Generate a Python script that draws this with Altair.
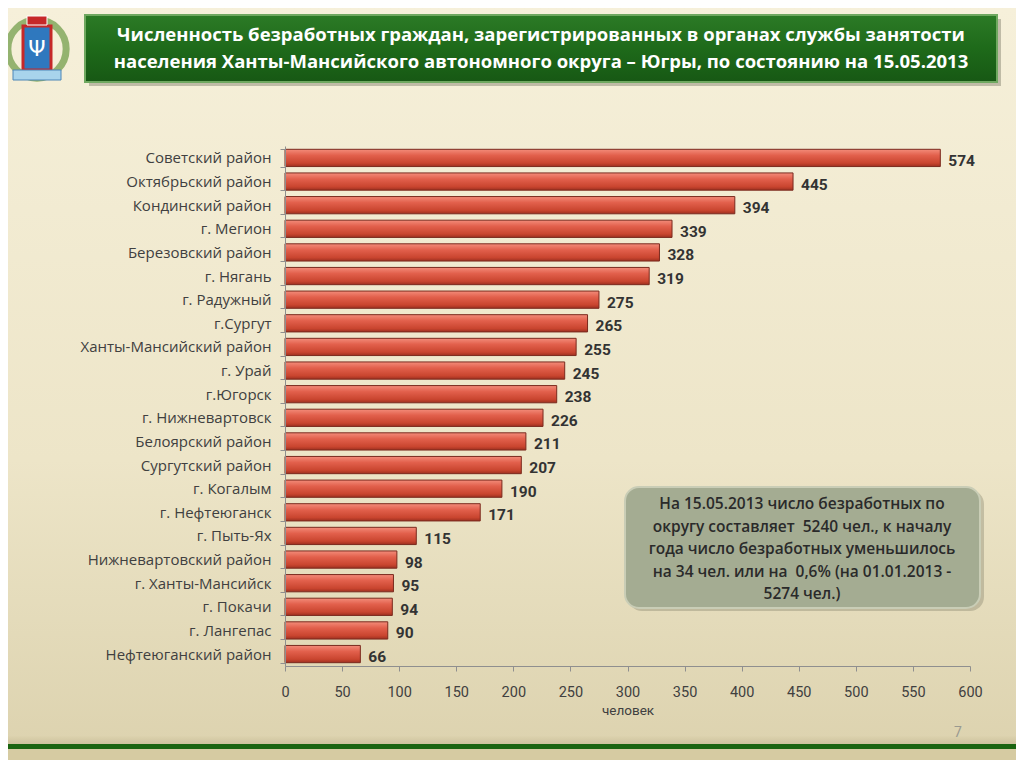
import altair as alt
import pandas as pd

categories = [
    "Советский район", "Октябрьский район", "Кондинский район", "г. Мегион",
    "Березовский район", "г. Нягань", "г. Радужный", "г.Сургут",
    "Ханты-Мансийский район", "г. Урай", "г.Югорск", "г. Нижневартовск",
    "Белоярский район", "Сургутский район", "г. Когалым", "г. Нефтеюганск",
    "г. Пыть-Ях", "Нижневартовский район", "г. Ханты-Мансийск", "г. Покачи",
    "г. Лангепас", "Нефтеюганский район",
]
values = [574, 445, 394, 339, 328, 319, 275, 265, 255, 245, 238, 226,
          211, 207, 190, 171, 115, 98, 95, 94, 90, 66]
x_ticks = list(range(0, 601, 50))

title_lines = [
    "Численность безработных граждан, зарегистрированных в органах службы занятости",
    "населения Ханты-Мансийского автономного округа – Югры, по состоянию на 15.05.2013",
]
note_lines = [
    "На 15.05.2013 число безработных по",
    "округу составляет \u00a05240 чел., к началу",
    "года число безработных уменьшилось",
    "на 34 чел. или на \u00a00,6% (на 01.01.2013 -",
    "5274 чел.)",
]
x_title = "человек"
page_no = "7"

FONT = "Roboto"
FONT2 = "Open Sans"
df = pd.DataFrame({"cat": categories, "val": values})
one = pd.DataFrame({"k": [0]})

W, H = 685, 520
L, T = 277, 138

def grad(stops, vertical=True):
    return alt.LinearGradient(
        gradient="linear",
        stops=[alt.GradientStop(color=c, offset=o) for o, c in stops],
        x1=0, x2=0 if vertical else 1, y1=0, y2=1 if vertical else 0,
    )

def box(x, x2, y, y2, **kw):
    return alt.Chart(one).mark_rect(**kw).encode(
        x=alt.value(x), x2=alt.value(x2), y=alt.value(y), y2=alt.value(y2))

bg = box(-L, 1008 - L, -T, 752 - T,
         color=grad([(0, "#F6F0DA"), (0.6, "#EDE5C8"), (1, "#DCD2AE")]))
shade = box(-L, 1008 - L, 590, 598,
            color=grad([(0, "#DCD2AE"), (1, "#C9BE98")]), opacity=0.8)
green_line = box(-L, 1008 - L, 598, 603, color="#1A6410")
below = box(-L, 1008 - L, 603, 752 - T, color="#D6CBA2")

title_shadow = box(-196, 716, -127, -60, color="#5b5b4a", opacity=0.35)
title_box = box(-200, 712, -131, -64,
                color=grad([(0, "#2C7A26"), (0.5, "#1E6A1A"), (1, "#175814")]),
                stroke="#6FA860", strokeWidth=2)
title_text = alt.Chart(one).mark_text(
    text=title_lines, font=FONT2, fontSize=18.5, fontWeight="bold",
    color="white", align="center", baseline="middle", lineHeight=27,
).encode(x=alt.value(256), y=alt.value(-111))

# simple emblem
wreath = alt.Chart(one).mark_point(
    shape="circle", filled=False, strokeWidth=7, color="#6C9A44", size=3400
).encode(x=alt.value(-248), y=alt.value(-97))
shield = box(-262, -234, -120, -76, color="#2F78BE", stroke="#C62828", strokeWidth=3)
crown = box(-258, -238, -130, -121, color="#C62828", stroke="#ffffff", strokeWidth=1)
ribbon = box(-272, -224, -76, -66, color="#A8D4EC", stroke="#4C86B8", strokeWidth=1)
emblem_fig = alt.Chart(one).mark_text(
    text="Ψ", fontSize=22, color="#ffffff", font="DejaVu Sans", baseline="middle"
).encode(x=alt.value(-248), y=alt.value(-97))

bars = alt.Chart(df).mark_bar(
    color=grad([(0, "#F38C7A"), (0.35, "#E2604C"), (0.8, "#C9452F"), (1, "#9E3020")]),
    stroke="#7A2A1E", strokeWidth=1,
).encode(
    y=alt.Y("cat:N", sort=categories, title=None,
            scale=alt.Scale(paddingInner=0.27, paddingOuter=0.14),
            axis=alt.Axis(labelFont=FONT2, labelFontSize=15, labelColor="#404040",
                          labelPadding=9, labelLimit=400, tickBand="extent", tickSize=5,
                          tickColor="#8f8f8f", domainColor="#8f8f8f", zindex=1)),
    x=alt.X("val:Q", title=x_title,
            scale=alt.Scale(domain=[0, 600], nice=False),
            axis=alt.Axis(values=x_ticks, grid=False, labelFont=FONT, labelFontSize=14.5,
                          labelFlush=False, labelOverlap=False,
                          labelColor="#404040", labelPadding=14, tickSize=5,
                          tickColor="#8f8f8f", domainColor="#8f8f8f",
                          titleFont=FONT, titleFontSize=13.5, titleFontWeight="normal",
                          titleColor="#404040", titlePadding=5, zindex=1)),
)
labels = alt.Chart(df).mark_text(
    align="left", baseline="middle", dx=8, dy=3, font=FONT, fontSize=15.5,
    fontWeight="bold", color="#333333",
).encode(y=alt.Y("cat:N", sort=categories), x="val:Q", text="val:Q")

note_shadow = box(343, 699, 344, 465, color="#6b6b55", opacity=0.3, cornerRadius=14)
note_box = box(340, 695, 341, 462, color="#A4AC92", stroke="#C9CDB6",
               strokeWidth=2, cornerRadius=14)
note_text = alt.Chart(one).mark_text(
    text=note_lines, font=FONT2, fontSize=15.5, fontWeight=600, color="#2A2A2A",
    align="center", baseline="middle", lineHeight=22.5,
).encode(x=alt.value(517), y=alt.value(358))

page = alt.Chart(one).mark_text(
    text=page_no, font=FONT, fontSize=14, color="#9a9a90", align="center",
    baseline="middle",
).encode(x=alt.value(673), y=alt.value(587))

chart = alt.layer(
    bg, shade, green_line, below, title_shadow, title_box, title_text,
    wreath, shield, crown, ribbon, emblem_fig,
    bars, labels, note_shadow, note_box, note_text, page,
).properties(
    width=W, height=H,
    autosize=alt.AutoSizeParams(type="none"),
    padding={"left": L, "top": T, "right": 1008 - L - W, "bottom": 752 - T - H},
).configure_view(stroke=None).configure(background="#EFE8CE")

chart.save("out.html", embed_options={"renderer": "svg", "actions": False})
